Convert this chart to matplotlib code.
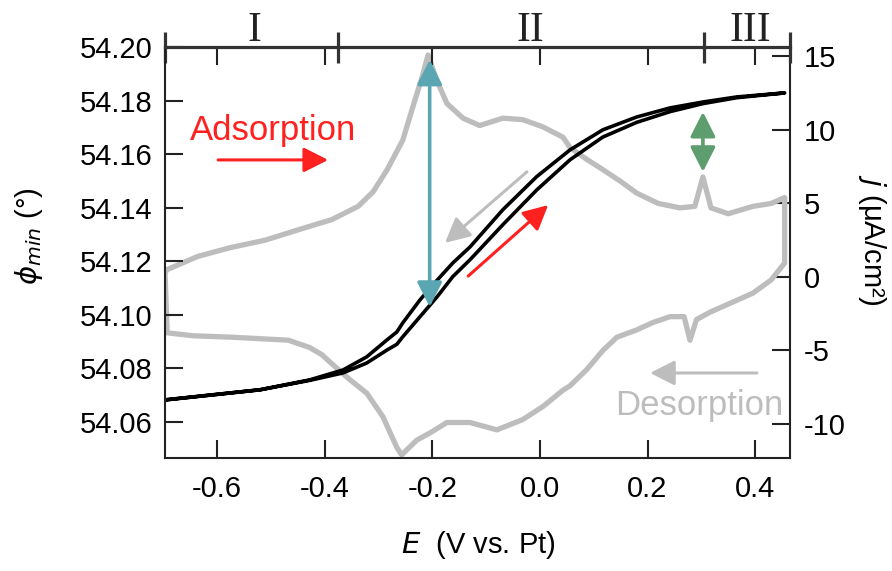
import matplotlib.pyplot as plt

plt.rcParams['font.family'] = ['Liberation Sans', 'DejaVu Sans']
plt.rcParams['axes.unicode_minus'] = False

# cyclic voltammogram (right axis), anodic sweep then cathodic sweep
E_anodic = [-0.697, -0.693, -0.636, -0.575, -0.511, -0.45, -0.387, -0.338, -0.31,
            -0.284, -0.255, -0.236, -0.219, -0.208, -0.192, -0.173, -0.143, -0.112,
            -0.069, -0.032, 0.006, 0.043, 0.056, 0.087, 0.117, 0.150, 0.180, 0.220,
            0.260, 0.288, 0.303, 0.318, 0.350, 0.396, 0.430, 0.455]
j_anodic = [0.3, 0.5, 1.4, 2.0, 2.5, 3.2, 3.9, 4.8, 5.8,
            7.3, 9.3, 11.6, 13.6, 15.1, 13.4, 11.8, 10.8, 10.3,
            10.8, 10.7, 10.2, 9.5, 8.8, 8.0, 7.3, 6.5, 5.7, 5.0,
            4.7, 4.8, 6.8, 4.7, 4.3, 4.8, 5.0, 5.4]
E_cathodic = [0.455, 0.430, 0.396, 0.353, 0.316, 0.291, 0.279, 0.268, 0.242, 0.210,
              0.180, 0.143, 0.117, 0.087, 0.056, 0.043, 0.006, -0.032, -0.080,
              -0.130, -0.173, -0.204, -0.229, -0.257, -0.266, -0.292, -0.322, -0.353,
              -0.390, -0.405, -0.428, -0.468, -0.572, -0.645, -0.693, -0.697]
j_cathodic = [0.95, -0.2, -1.1, -1.8, -2.4, -2.9, -4.3, -2.7, -2.7, -3.1,
              -3.6, -4.1, -5.0, -6.3, -7.4, -7.7, -8.8, -9.7, -10.4,
              -9.9, -9.9, -10.6, -11.1, -12.1, -11.6, -9.5, -7.9, -7.0,
              -5.8, -5.3, -4.8, -4.3, -4.1, -4.0, -3.8, 0.3]

# SPR minimum angle (left axis)
E_phi_fwd = [-0.697, -0.613, -0.52, -0.428, -0.366, -0.322, -0.284, -0.266, -0.255,
             -0.223, -0.191, -0.162, -0.13, -0.069, -0.006, 0.056, 0.117, 0.18, 0.242,
             0.303, 0.366, 0.455]
phi_fwd = [54.0682, 54.0700, 54.0720, 54.0755, 54.0783, 54.0820, 54.0869, 54.0890,
           54.0918, 54.0993, 54.1068, 54.1143, 54.1206, 54.1337, 54.1467, 54.1580,
           54.1665, 54.1720, 54.1760, 54.1790, 54.1812, 54.1830]
E_phi_rev = [0.455, 0.366, 0.303, 0.242, 0.18, 0.117, 0.056, -0.006, -0.069, -0.13,
             -0.162, -0.191, -0.223, -0.255, -0.266, -0.284, -0.322, -0.366, -0.428,
             -0.52, -0.613, -0.697]
phi_rev = [54.1830, 54.1815, 54.1796, 54.1774, 54.1740, 54.1692, 54.1617, 54.1517,
           54.1393, 54.1254, 54.1194, 54.1130, 54.1056, 54.0970, 54.0936, 54.0907,
           54.0843, 54.0794, 54.0757, 54.0720, 54.0700, 54.0682]

x_ticks = [-0.6, -0.4, -0.2, 0.0, 0.2, 0.4]
x_tick_labels = ['-0.6', '-0.4', '-0.2', '0.0', '0.2', '0.4']
phi_ticks = [54.06, 54.08, 54.10, 54.12, 54.14, 54.16, 54.18, 54.20]
phi_tick_labels = ['54.06', '54.08', '54.10', '54.12', '54.14', '54.16', '54.18', '54.20']
j_ticks = [-10, -5, 0, 5, 10, 15]
j_tick_labels = ['-10', '-5', '0', '5', '10', '15']

region_bounds = [-0.697, -0.375, 0.305, 0.465]
region_names = ['I', 'II', 'III']
region_centers = [-0.53, -0.017, 0.392]

gray = '#bdbdbd'
dark = '#222222'

fig = plt.figure(figsize=(8.92, 5.71), dpi=100)
ax = fig.add_axes([0.185, 0.198, 0.7007, 0.7189])
ax2 = ax.twinx()
ax.set_zorder(ax2.get_zorder() + 1)
ax.patch.set_visible(False)

ax2.plot(E_anodic + E_cathodic, j_anodic + j_cathodic, color=gray, lw=3.8,
         solid_joinstyle='round')
ax.plot(E_phi_fwd + E_phi_rev, phi_fwd + phi_rev, color='black', lw=2.6,
        solid_joinstyle='round')

ax.set_xlim(-0.697, 0.465)
ax.set_ylim(54.0465, 54.2)
ax2.set_ylim(-12.31, 15.61)

ax.set_xticks(x_ticks)
ax.set_xticklabels(x_tick_labels)
ax.set_yticks(phi_ticks)
ax.set_yticklabels(phi_tick_labels)
ax2.set_yticks(j_ticks)
ax2.set_yticklabels(j_tick_labels)

for s in ['left', 'bottom']:
    ax.spines[s].set_linewidth(1.5)
    ax.spines[s].set_color(dark)
ax.spines['top'].set_linewidth(2.3)
ax.spines['top'].set_color('#333333')
ax.spines['right'].set_visible(False)
for s in ['left', 'top', 'bottom']:
    ax2.spines[s].set_visible(False)
ax2.spines['right'].set_linewidth(1.5)
ax2.spines['right'].set_color(dark)

ax.tick_params(axis='x', direction='in', top=True, length=13, width=1.5,
               color=dark, labelsize=21, pad=12)
ax.tick_params(axis='y', direction='in', right=False, length=13, width=1.5,
               color=dark, labelsize=21, pad=9)
ax2.tick_params(axis='y', direction='in', length=13, width=1.5, color=dark,
                labelsize=21, pad=10)

ax.set_xlabel('$E$  (V vs. Pt)', fontsize=21, va='top')
ax.xaxis.set_label_coords(0.502, -0.172)
ax.set_ylabel(r'$\phi_{min}$ (°)', fontsize=21)
ax.yaxis.set_label_coords(-0.192, 0.54)
ax2.set_ylabel('$j$ (μA/cm²)', fontsize=21, rotation=270, va='bottom')
ax2.yaxis.set_label_coords(1.105, 0.53)

# potential regions along the top
xt = ax.get_xaxis_transform()
for e in region_bounds:
    ax.plot([e, e], [0.962, 1.038], transform=xt, clip_on=False,
            color='#333333', lw=2.3, solid_capstyle='butt')
for name, c in zip(region_names, region_centers):
    ax.text(c, 1.0166, name, transform=xt, ha='center', va='baseline',
            fontsize=30, family=['Liberation Serif', 'DejaVu Serif'], color='#222222')

# sweep direction labels and arrows
ax.text(0.04, 0.775, 'Adsorption', transform=ax.transAxes, color='#ff2020',
        fontsize=25, va='baseline', ha='left')
ax.text(0.989, 0.105, 'Desorption', transform=ax.transAxes, color=gray,
        fontsize=25, va='baseline', ha='right')


def arrow(xy, xytext, color, style='-|>', coords='axes fraction', lw=2.2):
    ax.annotate('', xy=xy, xytext=xytext, xycoords=coords, textcoords=coords,
                arrowprops=dict(arrowstyle=style + ',head_length=0.75,head_width=0.38',
                                mutation_scale=20, color=color, lw=lw,
                                shrinkA=0, shrinkB=0))


arrow((0.261, 0.726), (0.085, 0.726), '#ff2020')
arrow((0.613, 0.616), (0.485, 0.443), '#ff2020')
arrow((0.448, 0.524), (0.579, 0.697), gray)
arrow((0.776, 0.207), (0.947, 0.207), gray)
arrow((-0.205, 0.368), (-0.205, 0.970), '#5aa6b3', style='<|-|>',
      coords=('data', 'axes fraction'), lw=2.6)
arrow((0.303, 0.697), (0.303, 0.843), '#5e9e6e', style='<|-|>',
      coords=('data', 'axes fraction'), lw=2.6)

fig.savefig('out.png', dpi=100)
